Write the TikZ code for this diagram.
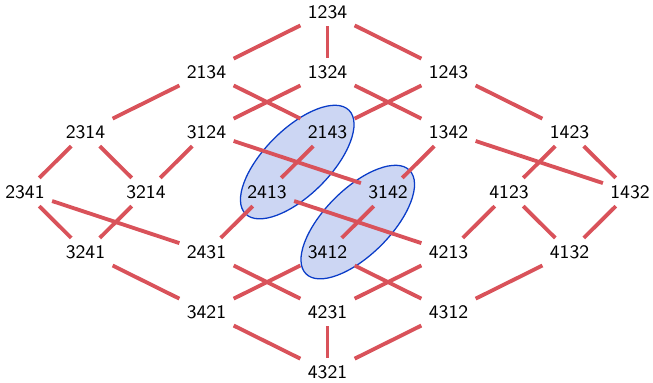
\documentclass[tikz,border=0pt]{standalone}
\usepackage{tikz}
\definecolor{edgered}{RGB}{217,82,90}
\definecolor{blobfill}{RGB}{204,214,243}
\definecolor{blobline}{RGB}{10,60,200}
\tikzset{
  perm/.style={font=\sffamily\small, inner sep=3.3pt},
  cover/.style={edgered, line width=1.8pt},
  blob/.style={draw=blobline, fill=blobfill, line width=0.6pt}
}
\begin{document}
\begin{tikzpicture}[x=1cm, y=-0.992cm]
    \useasboundingbox (-0.413,-0.2) rectangle (10.38,6.167);

    % Highlighted pairs
    \draw[blob, rotate around={45:(4.5,2.5)}] (4.5,2.5) ellipse [x radius=1.21cm, y radius=0.545cm];
    \draw[blob, rotate around={45:(5.5,3.5)}] (5.5,3.5) ellipse [x radius=1.21cm, y radius=0.545cm];

    % Permutations
    \foreach \p/\c/\r in {1234/5/0,
        2134/3/1, 1324/5/1, 1243/7/1,
        2314/1/2, 3124/3/2, 2143/5/2, 1342/7/2, 1423/9/2,
        2341/0/3, 3214/2/3, 2413/4/3, 3142/6/3, 4123/8/3, 1432/10/3,
        3241/1/4, 2431/3/4, 3412/5/4, 4213/7/4, 4132/9/4,
        3421/3/5, 4231/5/5, 4312/7/5,
        4321/5/6}
        \node[perm] (p\p) at (\c,\r) {\p};

    % Covering relations
    \foreach \a/\b in {1234/2134, 1234/1324, 1234/1243,
        2134/2314, 2134/2143, 1324/3124, 1324/1342, 1243/2143, 1243/1423,
        2314/2341, 2314/3214, 3124/3214, 3124/3142, 2143/2413,
        1342/3142, 1342/1432, 1423/4123, 1423/1432,
        2341/3241, 2341/2431, 3214/3241, 2413/2431, 2413/4213,
        3142/3412, 4123/4213, 4123/4132, 1432/4132,
        3241/3421, 2431/4231, 3412/3421, 3412/4312, 4213/4231, 4132/4312,
        3421/4321, 4231/4321, 4312/4321}
        \draw[cover] (p\a) -- (p\b);
\end{tikzpicture}
\end{document}
